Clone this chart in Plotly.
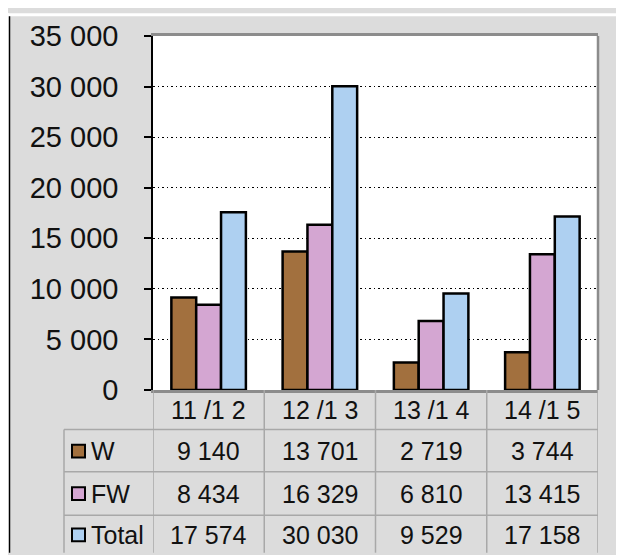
import plotly.graph_objects as go

categories = ["11 /1 2", "12 /1 3", "13 /1 4", "14 /1 5"]
series_names = ["W", "FW", "Total"]
w_values = [9140, 13701, 2719, 3744]
fw_values = [8434, 16329, 6810, 13415]
total_values = [17574, 30030, 9529, 17158]
y_ticks = [0, 5000, 10000, 15000, 20000, 25000, 30000, 35000]

colors = ["#a2703e", "#d4a6d2", "#aed0f1"]
bg = "#dcdcdc"
grid_gray = "#a8a8a8"
font_family = "Liberation Sans, Arial, sans-serif"

# the page body adds an 8px margin, so the figure is placed at (8, 8)
OFF = 8
W, H = 624 - OFF, 555 - OFF
ML, MR, MT, MB = 145, 26, 23, 165
PW = W - ML - MR
PH = H - MT - MB


def px(x):
    # page pixel x -> paper coordinate
    return (x - OFF - ML) / PW


def py(y):
    # page pixel y -> paper coordinate
    return (H - MB - (y - OFF)) / PH


def fmt(v):
    return f"{v:,}".replace(",", " ")


series = [w_values, fw_values, total_values]

data = []
for name, vals, col in zip(series_names, series, colors):
    data.append(go.Bar(x=categories, y=vals, name=name, marker=dict(color=col, line=dict(color="black", width=2.5)),
                       hoverinfo="skip"))

shapes = []
annotations = []

# outer frame: white strip on top and a black line on the left
shapes.append(dict(type="rect", xref="paper", yref="paper", x0=px(OFF), x1=px(624), y0=py(11), y1=py(OFF),
                   fillcolor="white", line=dict(width=0)))
shapes.append(dict(type="rect", xref="paper", yref="paper", x0=px(OFF), x1=px(9), y0=py(555), y1=py(OFF),
                   fillcolor="white", line=dict(width=0)))
shapes.append(dict(type="line", xref="paper", yref="paper", x0=px(9.5), x1=px(9.5), y0=py(555), y1=py(11),
                   line=dict(color="black", width=1.5)))

# right border of plot area
shapes.append(dict(type="line", xref="paper", yref="paper", x0=1, x1=1, y0=0, y1=1,
                   line=dict(color="#8c8c8c", width=2.5)))

# data table grid
row_lines = [430, 473, 517]
for r in row_lines:
    shapes.append(dict(type="line", xref="paper", yref="paper", x0=px(64), x1=1, y0=py(r), y1=py(r),
                       line=dict(color=grid_gray, width=1.5)))
shapes.append(dict(type="line", xref="paper", yref="paper", x0=px(64), x1=px(64), y0=py(430), y1=py(555),
                   line=dict(color=grid_gray, width=1.5)))
for i in range(len(categories) + 1):
    shapes.append(dict(type="line", xref="x", yref="paper", x0=i - 0.5, x1=i - 0.5, y0=0, y1=py(555),
                       line=dict(color=grid_gray, width=1.5)))

# header row: categories
for c in categories:
    annotations.append(dict(x=c, xref="x", y=py(410), yref="paper", text=c, showarrow=False,
                            font=dict(size=25, color="#111"), xanchor="center", yanchor="middle"))

# series rows
row_centers = [452, 495, 537]
for name, vals, col, yc in zip(series_names, series, colors, row_centers):
    shapes.append(dict(type="rect", xref="paper", yref="paper", x0=px(72), x1=px(85),
                       y0=py(yc + 6.5), y1=py(yc - 6.5), fillcolor=col, line=dict(color="black", width=2)))
    annotations.append(dict(x=px(89), xref="paper", y=py(yc), yref="paper", text=name, showarrow=False,
                            font=dict(size=25, color="#111"), xanchor="left", yanchor="middle"))
    for c, v in zip(categories, vals):
        annotations.append(dict(x=c, xref="x", y=py(yc), yref="paper", text=fmt(v), showarrow=False,
                                font=dict(size=25, color="#111"), xanchor="center", yanchor="middle"))

layout = go.Layout(
    width=W,
    height=H,
    margin=dict(l=ML, r=MR, t=MT, b=MB, pad=0),
    paper_bgcolor=bg,
    plot_bgcolor="white",
    showlegend=False,
    barmode="group",
    bargap=0.33,
    bargroupgap=0,
    separators=". ",
    font=dict(family=font_family, color="#111"),
    xaxis=dict(type="category", range=[-0.5, 3.5], showticklabels=False, showgrid=False,
               showline=True, linecolor="#8c8c8c", linewidth=2.5, mirror=True, ticks=""),
    yaxis=dict(range=[0, 35000], tickvals=y_ticks, tickformat=",d", showgrid=True, gridcolor="black",
               gridwidth=1.2, griddash="1.5px,3px", zeroline=False, showline=True, linecolor="black",
               linewidth=1.5, ticks="outside", ticklen=7, tickwidth=1.5, tickcolor="black",
               tickfont=dict(size=29, color="#111"), ticklabelstandoff=20),
    shapes=shapes,
    annotations=annotations,
)

fig = go.Figure(data=data, layout=layout)
fig.write_html("out.html")
